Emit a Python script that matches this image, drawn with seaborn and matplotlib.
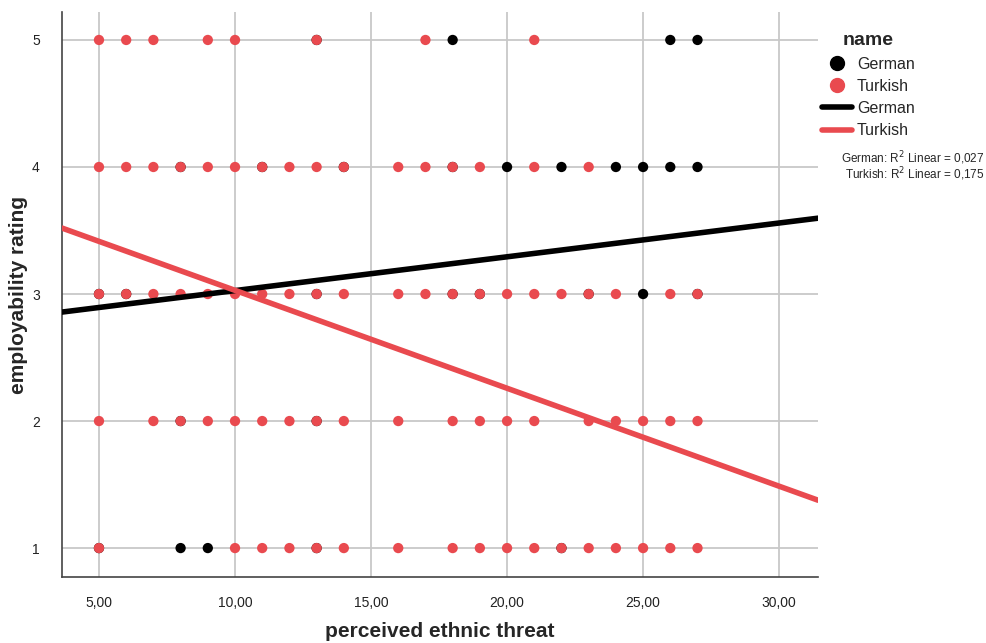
import matplotlib
matplotlib.use("Agg")
import matplotlib.pyplot as plt
import pandas as pd
import seaborn as sns
from matplotlib.lines import Line2D
from matplotlib.ticker import FuncFormatter

# perceived ethnic threat values per employability rating
german_r5 = [13, 18, 26, 27]
german_r4 = [8, 11, 14, 18, 20, 22, 24, 25, 26, 27]
german_r3 = [5, 6, 13, 18, 19, 23, 25, 27]
german_r2 = [8, 13]
german_r1 = [5, 8, 9, 13, 22]

turkish_r5 = [5, 6, 7, 9, 10, 13, 17, 21]
turkish_r4 = [5, 6, 7, 8, 9, 10, 11, 12, 13, 14, 16, 17, 18, 19, 21, 23]
turkish_r3 = [5, 6, 7, 8, 9, 10, 11, 12, 13, 14, 16, 17, 18, 19, 20, 21, 22, 23, 24, 26, 27]
turkish_r2 = [5, 7, 8, 9, 10, 11, 12, 13, 14, 16, 18, 19, 20, 21, 23, 24, 25, 26, 27]
turkish_r1 = [5, 10, 11, 12, 13, 14, 16, 18, 19, 20, 21, 22, 23, 24, 25, 26, 27]

# linear fit lines (intercept, slope) and R2
groups = ["German", "Turkish"]
fit_intercept = [2.761, 3.80]
fit_slope = [0.0266, -0.0771]
r_squared = ["0,027", "0,175"]

colors = {"German": "#000000", "Turkish": "#E94A4F"}

rows = []
for name, per_rating in [
    ("German", [german_r1, german_r2, german_r3, german_r4, german_r5]),
    ("Turkish", [turkish_r1, turkish_r2, turkish_r3, turkish_r4, turkish_r5]),
]:
    for rating, threats in enumerate(per_rating, start=1):
        for t in threats:
            rows.append({"threat": t, "rating": rating, "name": name})
df = pd.DataFrame(rows)

sns.set_style("white")
plt.rcParams["font.family"] = ["Liberation Sans", "DejaVu Sans"]

fig = plt.figure(figsize=(9.87, 6.43), dpi=100)
ax = fig.add_axes([0.0628, 0.1026, 0.766, 0.8787])

ax.grid(True, color="#c8c8c8", linewidth=1.3)
ax.set_axisbelow(True)

sns.scatterplot(
    data=df,
    x="threat",
    y="rating",
    hue="name",
    hue_order=groups,
    palette=colors,
    s=55,
    edgecolor="none",
    alpha=1,
    legend=False,
    ax=ax,
    zorder=3,
)

for name, b0, b1 in zip(groups, fit_intercept, fit_slope):
    ax.axline((0, b0), slope=b1, color=colors[name], linewidth=4, zorder=4)

ax.set_xlim(3.64, 31.43)
ax.set_ylim(0.772, 5.22)
ax.set_xticks([5, 10, 15, 20, 25, 30])
ax.set_yticks([1, 2, 3, 4, 5])
ax.xaxis.set_major_formatter(FuncFormatter(lambda v, p: f"{v:.2f}".replace(".", ",")))
ax.tick_params(axis="both", length=0, labelsize=10, colors="#222222", pad=14)
ax.tick_params(axis="y", pad=16)

for side in ["top", "right"]:
    ax.spines[side].set_visible(False)
for side in ["left", "bottom"]:
    ax.spines[side].set_color("#444444")
    ax.spines[side].set_linewidth(1.2)

ax.set_xlabel("perceived ethnic threat", fontsize=15, fontweight="bold")
ax.set_ylabel("employability rating", fontsize=15, fontweight="bold")
ax.xaxis.set_label_coords(0.5, -0.096)
ax.yaxis.set_label_coords(-0.058, 0.5)
ax.xaxis.label.set_va("center")
ax.yaxis.label.set_va("center")

handles = [
    Line2D([], [], linestyle="none", marker="o", markersize=10, color=colors["German"]),
    Line2D([], [], linestyle="none", marker="o", markersize=10, color=colors["Turkish"]),
    Line2D([], [], color=colors["German"], linewidth=4),
    Line2D([], [], color=colors["Turkish"], linewidth=4),
]
leg = fig.legend(
    handles,
    groups + groups,
    title="name",
    loc="upper left",
    bbox_to_anchor=(0.818, 0.972),
    frameon=False,
    fontsize=11.5,
    handlelength=1.9,
    handletextpad=0.3,
    labelspacing=0.45,
)
leg.get_title().set_fontweight("bold")
leg.get_title().set_fontsize(14)

for i, (name, r2) in enumerate(zip(groups, r_squared)):
    fig.text(0.997, 1 - (158 + 16 * i) / 643, f"{name}: R$^2$ Linear = {r2}",
             ha="right", va="center", fontsize=8.5)

fig.savefig("out.png", dpi=100)
plt.close(fig)
